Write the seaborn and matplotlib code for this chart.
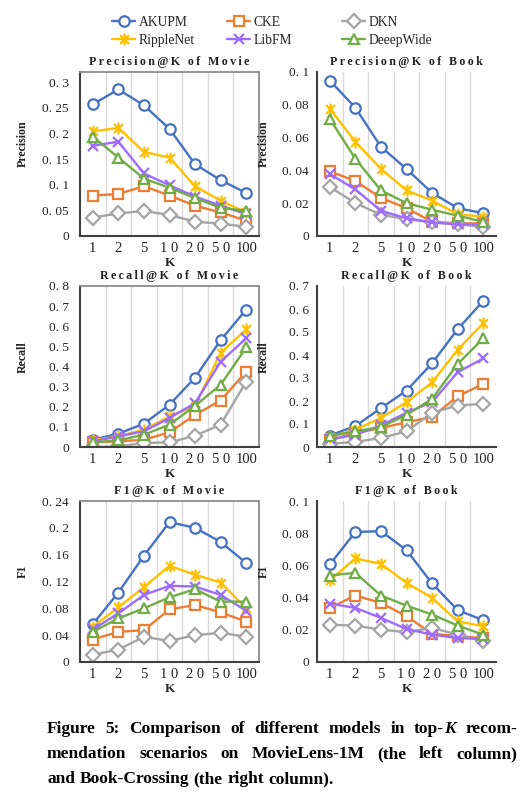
import numpy as np
import pandas as pd
import seaborn as sns
import matplotlib
matplotlib.use("Agg")
import matplotlib.pyplot as plt
from matplotlib.path import Path
from matplotlib.ticker import FixedLocator, FuncFormatter

# ---------------- data ----------------
K_LABELS = ["1", "2", "5", "1 0", "2 0", "5 0", "100"]
MODELS = ["AKUPM", "CKE", "DKN", "RippleNet", "LibFM", "DeepWide"]
LEGEND_LABELS = ["AKUPM", "CKE", "DKN", "RippleNet", "LibFM", "DeeepWide"]

prec_movie = {
    "AKUPM":     [0.257, 0.286, 0.255, 0.209, 0.140, 0.109, 0.084],
    "CKE":       [0.079, 0.082, 0.097, 0.079, 0.059, 0.046, 0.030],
    "DKN":       [0.036, 0.044, 0.049, 0.041, 0.028, 0.024, 0.018],
    "RippleNet": [0.204, 0.211, 0.164, 0.153, 0.097, 0.069, 0.046],
    "LibFM":     [0.176, 0.184, 0.122, 0.099, 0.077, 0.059, 0.043],
    "DeepWide":  [0.194, 0.153, 0.112, 0.094, 0.074, 0.055, 0.049],
}
prec_book = {
    "AKUPM":     [0.0948, 0.0782, 0.0544, 0.0409, 0.0263, 0.0170, 0.0139],
    "CKE":       [0.0394, 0.0336, 0.0232, 0.0170, 0.0087, 0.0077, 0.0077],
    "DKN":       [0.0299, 0.0201, 0.0129, 0.0104, 0.0083, 0.0071, 0.0056],
    "RippleNet": [0.0776, 0.0575, 0.0409, 0.0278, 0.0216, 0.0133, 0.0118],
    "LibFM":     [0.0378, 0.0284, 0.0154, 0.0108, 0.0083, 0.0071, 0.0071],
    "DeepWide":  [0.0714, 0.0471, 0.0278, 0.0201, 0.0160, 0.0124, 0.0087],
}
recall_movie = {
    "AKUPM":     [0.036, 0.066, 0.116, 0.210, 0.345, 0.531, 0.683],
    "CKE":       [0.023, 0.028, 0.036, 0.073, 0.160, 0.231, 0.375],
    "DKN":       [0.000, 0.003, 0.020, 0.023, 0.056, 0.111, 0.325],
    "RippleNet": [0.033, 0.053, 0.086, 0.152, 0.205, 0.469, 0.584],
    "LibFM":     [0.028, 0.053, 0.078, 0.144, 0.218, 0.424, 0.540],
    "DeepWide":  [0.023, 0.033, 0.061, 0.111, 0.205, 0.309, 0.495],
}
recall_book = {
    "AKUPM":     [0.050, 0.091, 0.169, 0.245, 0.364, 0.512, 0.635],
    "CKE":       [0.029, 0.062, 0.082, 0.108, 0.130, 0.221, 0.274],
    "DKN":       [0.014, 0.022, 0.039, 0.068, 0.149, 0.180, 0.188],
    "RippleNet": [0.043, 0.076, 0.126, 0.195, 0.281, 0.423, 0.538],
    "LibFM":     [0.033, 0.053, 0.094, 0.149, 0.195, 0.325, 0.385],
    "DeepWide":  [0.048, 0.068, 0.087, 0.140, 0.209, 0.361, 0.472],
}
f1_movie = {
    "AKUPM":     [0.0565, 0.1035, 0.1585, 0.2085, 0.2000, 0.1790, 0.1475],
    "CKE":       [0.0335, 0.0450, 0.0475, 0.0785, 0.0850, 0.0740, 0.0600],
    "DKN":       [0.0110, 0.0185, 0.0375, 0.0315, 0.0400, 0.0435, 0.0375],
    "RippleNet": [0.0525, 0.0815, 0.1115, 0.1435, 0.1300, 0.1185, 0.0800],
    "LibFM":     [0.0485, 0.0725, 0.1000, 0.1135, 0.1125, 0.1000, 0.0765],
    "DeepWide":  [0.0450, 0.0650, 0.0800, 0.0965, 0.1085, 0.0900, 0.0900],
}
f1_book = {
    "AKUPM":     [0.0606, 0.0807, 0.0813, 0.0695, 0.0488, 0.0322, 0.0260],
    "CKE":       [0.0336, 0.0413, 0.0367, 0.0284, 0.0176, 0.0160, 0.0149],
    "DKN":       [0.0232, 0.0226, 0.0201, 0.0185, 0.0212, 0.0170, 0.0129],
    "RippleNet": [0.0508, 0.0643, 0.0610, 0.0492, 0.0398, 0.0253, 0.0222],
    "LibFM":     [0.0363, 0.0336, 0.0274, 0.0205, 0.0170, 0.0149, 0.0143],
    "DeepWide":  [0.0537, 0.0554, 0.0413, 0.0350, 0.0295, 0.0226, 0.0170],
}

titles = ["Precision@K of Movie", "Precision@K of Book",
          "Recall@K of Movie", "Recall@K of Book",
          "F1@K of Movie", "F1@K of Book"]
ylabels = ["Precision", "Precision", "Recall", "Recall", "F1", "F1"]
yticks_movie_p = [0, 0.05, 0.1, 0.15, 0.2, 0.25, 0.3]
yticks_book_p = [0, 0.02, 0.04, 0.06, 0.08, 0.1]
yticks_movie_r = [0, 0.1, 0.2, 0.3, 0.4, 0.5, 0.6, 0.7, 0.8]
yticks_book_r = [0, 0.1, 0.2, 0.3, 0.4, 0.5, 0.6, 0.7]
yticks_movie_f = [0, 0.04, 0.08, 0.12, 0.16, 0.2, 0.24]
yticks_book_f = [0, 0.02, 0.04, 0.06, 0.08, 0.1]

panels = [prec_movie, prec_book, recall_movie, recall_book, f1_movie, f1_book]
yticks_all = [yticks_movie_p, yticks_book_p, yticks_movie_r, yticks_book_r,
              yticks_movie_f, yticks_book_f]
ylims = [0.32, 0.1, 0.8, 0.7, 0.24, 0.1]

# ---------------- styles ----------------
colors = {"AKUPM": "#4472C4", "CKE": "#ED7D31", "DKN": "#A5A5A5",
          "RippleNet": "#FFC000", "LibFM": "#9E6BFF", "DeepWide": "#70AD47"}
star = Path([(0, -1), (0, 1), (-0.75, -0.75), (0.75, 0.75), (-0.75, 0.75), (0.75, -0.75)],
            [Path.MOVETO, Path.LINETO, Path.MOVETO, Path.LINETO, Path.MOVETO, Path.LINETO])
markers = {"AKUPM": "o", "CKE": "s", "DKN": "D", "RippleNet": star,
           "LibFM": "x", "DeepWide": "^"}
msizes = {"AKUPM": 7.5, "CKE": 6.8, "DKN": 6.8, "RippleNet": 8.5,
          "LibFM": 7.5, "DeepWide": 7.8}

sns.set_theme(style="white")
plt.rcParams["font.family"] = ["Liberation Serif", "DejaVu Serif"]

W, H = 531, 801
fig = plt.figure(figsize=(W / 100, H / 100), dpi=100)
fig.patch.set_facecolor("white")

lefts = [80, 317]
tops = [72, 286, 501]
bottoms = [236, 447, 662]
axw = 179

TS = "\u2009"


def spaced(s):
    return TS.join(list(s))


def yfmt(v, pos):
    if abs(v) < 1e-12:
        return "0"
    s = ("%.2f" % v).rstrip("0")
    return s.replace("0.", "0. ")


axes = []
for i, data in enumerate(panels):
    r, c = divmod(i, 2)
    l = lefts[c]
    t, b = tops[r], bottoms[r]
    ax = fig.add_axes([l / W, 1 - b / H, axw / W, (b - t) / H])
    axes.append(ax)
    rows = []
    for m in MODELS:
        for j, v in enumerate(data[m]):
            rows.append({"model": m, "pos": j, "value": v})
    df = pd.DataFrame(rows)
    for m in MODELS:
        sub = df[df["model"] == m]
        sns.lineplot(data=sub, x="pos", y="value", ax=ax, color=colors[m],
                     marker=markers[m], markersize=msizes[m],
                     markerfacecolor="white", markeredgecolor=colors[m],
                     markeredgewidth=1.6, linewidth=1.7, label=m,
                     legend=False, errorbar=None)
    ax.set_xlim(-0.5, 6.5)
    ax.set_ylim(0, ylims[i])
    ax.xaxis.set_major_locator(FixedLocator(range(7)))
    ax.set_xticklabels(K_LABELS)
    ax.xaxis.set_minor_locator(FixedLocator([0.5, 1.5, 2.5, 3.5, 4.5, 5.5]))
    ax.grid(False)
    ax.grid(True, which="minor", axis="x", color="#D9D9D9", linewidth=1.0)
    ax.set_axisbelow(True)
    ax.yaxis.set_major_locator(FixedLocator(yticks_all[i]))
    ax.yaxis.set_major_formatter(FuncFormatter(yfmt))
    ax.tick_params(axis="both", which="both", length=0)
    ax.tick_params(axis="x", labelsize=10.5, pad=4.5)
    ax.tick_params(axis="y", labelsize=9.6, pad=8.0 if c == 0 else 6.0)
    for lab in ax.get_xticklabels() + ax.get_yticklabels():
        lab.set_color("#222222")
    ax.set_xlabel("K", fontsize=9.5, fontweight="bold", color="#222222")
    ax.xaxis.set_label_coords(0.5, -21 / (b - t))
    ax.set_ylabel(ylabels[i], fontsize=8.6, fontweight="bold", color="#222222")
    ylx = (29 - 80) / axw if c == 0 else (270 - 317) / axw
    ax.yaxis.set_label_coords(ylx, 0.56)
    ax.text(0.5, 1 + 10 / (b - t), spaced(titles[i]), transform=ax.transAxes,
            ha="center", va="center", fontsize=8.6, fontweight="bold",
            color="#222222")
    for s in ["left", "bottom"]:
        ax.spines[s].set_color("#404040")
        ax.spines[s].set_linewidth(1.5)
    if c == 0:
        for s in ["top", "right"]:
            ax.spines[s].set_color("#8C8C8C")
            ax.spines[s].set_linewidth(1.3)
    else:
        for s in ["top", "right"]:
            ax.spines[s].set_visible(False)
    ax.set_facecolor("white")

# ---------------- legend ----------------
handles, _ = axes[0].get_legend_handles_labels()
hmap = dict(zip(MODELS, handles))
lmap = dict(zip(MODELS, LEGEND_LABELS))
cols = [["AKUPM", "RippleNet"], ["CKE", "LibFM"], ["DKN", "DeepWide"]]
for k, colx in enumerate([112, 227, 342]):
    fig.legend([hmap[m] for m in cols[k]], [lmap[m] for m in cols[k]],
               loc="upper left", bbox_to_anchor=(colx / W, 1 - 16 / H),
               frameon=False, fontsize=9.8, handlelength=1.7,
               handletextpad=0.25, labelspacing=0.35, borderpad=0,
               borderaxespad=0)

# ---------------- caption ----------------
cap_lines = [
    [[("Figure", 0)], [("5:", 0)], [("Comparison", 0)], [("of", 0)], [("different", 0)],
     [("models", 0)], [("in", 0)], [("top-", 0), ("K", 1)], [("recom-", 0)]],
    [[("mendation", 0)], [("scenarios", 0)], [("on", 0)], [("MovieLens-1M", 0)],
     [("(the", 0)], [("left", 0)], [("column)", 0)]],
    [[("and", 0)], [("Book-Crossing", 0)], [("(the", 0)], [("right", 0)], [("column).", 0)]],
]
cap_baselines = [733, 758, 783]
cap_x0, cap_x1 = 47, 517
cap_fs = 12.5
renderer = fig.canvas.get_renderer()
for li, words in enumerate(cap_lines):
    objs = []
    widths = []
    for w in words:
        wobjs = []
        ww = 0
        for seg, it in w:
            t = fig.text(0, 1 - cap_baselines[li] / H, seg, fontsize=cap_fs,
                         fontweight="bold", style="italic" if it else "normal",
                         va="baseline", ha="left", color="black")
            bb = t.get_window_extent(renderer)
            wobjs.append((t, bb.width))
            ww += bb.width
        objs.append(wobjs)
        widths.append(ww)
    total = sum(widths)
    if li < len(cap_lines) - 1:
        gap = (cap_x1 - cap_x0 - total) / (len(words) - 1)
    else:
        gap = 4.5
    x = cap_x0
    for wobjs, ww in zip(objs, widths):
        xx = x
        for t, tw in wobjs:
            t.set_x(xx / W)
            xx += tw
        x += ww + gap

fig.savefig("out.png", dpi=100, facecolor="white")
